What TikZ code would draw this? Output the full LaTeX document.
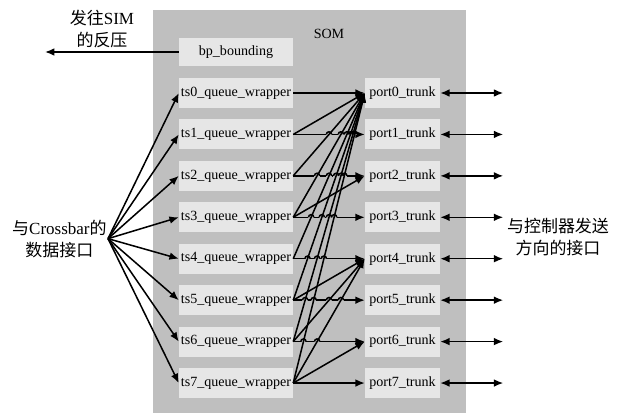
\documentclass[tikz,border=0pt]{standalone}
\usepackage{fontspec}
\setmainfont{Liberation Serif}
\newfontfamily\cjk{Noto Sans CJK SC}
\usetikzlibrary{arrows.meta,calc,positioning}
\definecolor{cinza}{HTML}{BFBFBF}
\definecolor{cinzaclaro}{HTML}{E6E6E6}
% linha i / origem j / destino t: onde a linha horizontal i salta
\newcommand{\cruzamentos}{1/2/0,1/3/0,1/4/0,1/5/0,1/6/0,1/7/0,
  2/3/0,2/4/0,2/5/0,2/6/0,2/7/0,3/4/0,3/5/0,3/6/0,3/7/0,
  4/5/0,4/6/0,4/7/0,5/6/0,5/7/0,5/6/4,5/7/4,6/7/0,6/7/4}

\begin{document}
\begin{tikzpicture}[
  blk/.style={fill=cinzaclaro,minimum width=3.42cm,minimum height=0.9cm,
              inner sep=1pt,font=\fontsize{12}{14}\selectfont},
  porta/.style={blk,minimum width=2.25cm},
  rot/.style={align=center,inner sep=1pt,font=\fontsize{14.5}{19}\selectfont},
  arr/.style={-{Latex[length=2.8mm,width=2.3mm]},line width=1.3pt},
  dup/.style={{Latex[length=2.8mm,width=2.3mm]}-{Latex[length=2.8mm,width=2.3mm]},line width=1.3pt},
  salto/.style={line width=1.3pt}
]
  \useasboundingbox (0,0) rectangle (18.78,-12.39);
  \fill[cinza] (4.59,-0.30) rectangle (13.98,-12.39);
  \node[font=\fontsize{12}{14}\selectfont] (som) at (9.87,-1.02) {SOM};
  \node[blk,minimum height=0.84cm] (bp) at (7.08,-1.56) {bp\_bounding};
  \foreach \i in {0,...,7} {
    \node[blk] (ts\i) at (7.08,{-2.79-1.243*\i}) {ts\i\_queue\_wrapper};
    \node[porta] (port\i) at (12.075,{-2.79-1.243*\i}) {port\i\_trunk};
    \coordinate[right=1.89cm of port\i.east] (out\i);
  }

  % lado esquerdo
  \node[rot,anchor=east] (xbar) at (3.24,-7.16) {{\cjk 与}Crossbar{\cjk 的}\\{\cjk 数据接口}};
  \node[rot] (sim) at (3.06,-0.87) {{\cjk 发往}SIM\\{\cjk 的反压}};
  \coordinate (simout) at (1.35,-1.56);
  \draw[arr] (bp.west) -- (simout);
  \foreach \i in {0,...,7}
    \draw[arr] (xbar.east) -- (ts\i.west);

  % lado direito
  \node[rot] (ctrl) at (16.74,-7.11) {{\cjk 与控制器发送}\\{\cjk 方向的接口}};
  \foreach \i in {0,...,7}
    \draw[dup] (port\i.east) -- (out\i);

  % ligacoes internas
  \foreach \i in {0,...,7}
    \draw[arr] (ts\i.east) -- (port\i.west);
  \foreach \i/\j/\t in \cruzamentos {
    \coordinate (x) at ($(ts\j.east)!{(\j-\i)/(\j-\t)}!(port\t.west)$);
    \fill[cinza] ($(x)+(-0.08,-0.8pt)$) rectangle ($(x)+(0.08,0.8pt)$);
  }
  \foreach \i/\j/\t in \cruzamentos {
    \coordinate (x) at ($(ts\j.east)!{(\j-\i)/(\j-\t)}!(port\t.west)$);
    \draw[salto] ($(x)+(-0.08,0)$) arc (180:0:0.08);
  }
  \foreach \j/\t in {1/0,2/0,3/0,4/0,5/0,6/0,7/0,3/2,5/4,6/4,7/4,7/6}
    \draw[arr] (ts\j.east) -- (port\t.west);
\end{tikzpicture}
\end{document}
